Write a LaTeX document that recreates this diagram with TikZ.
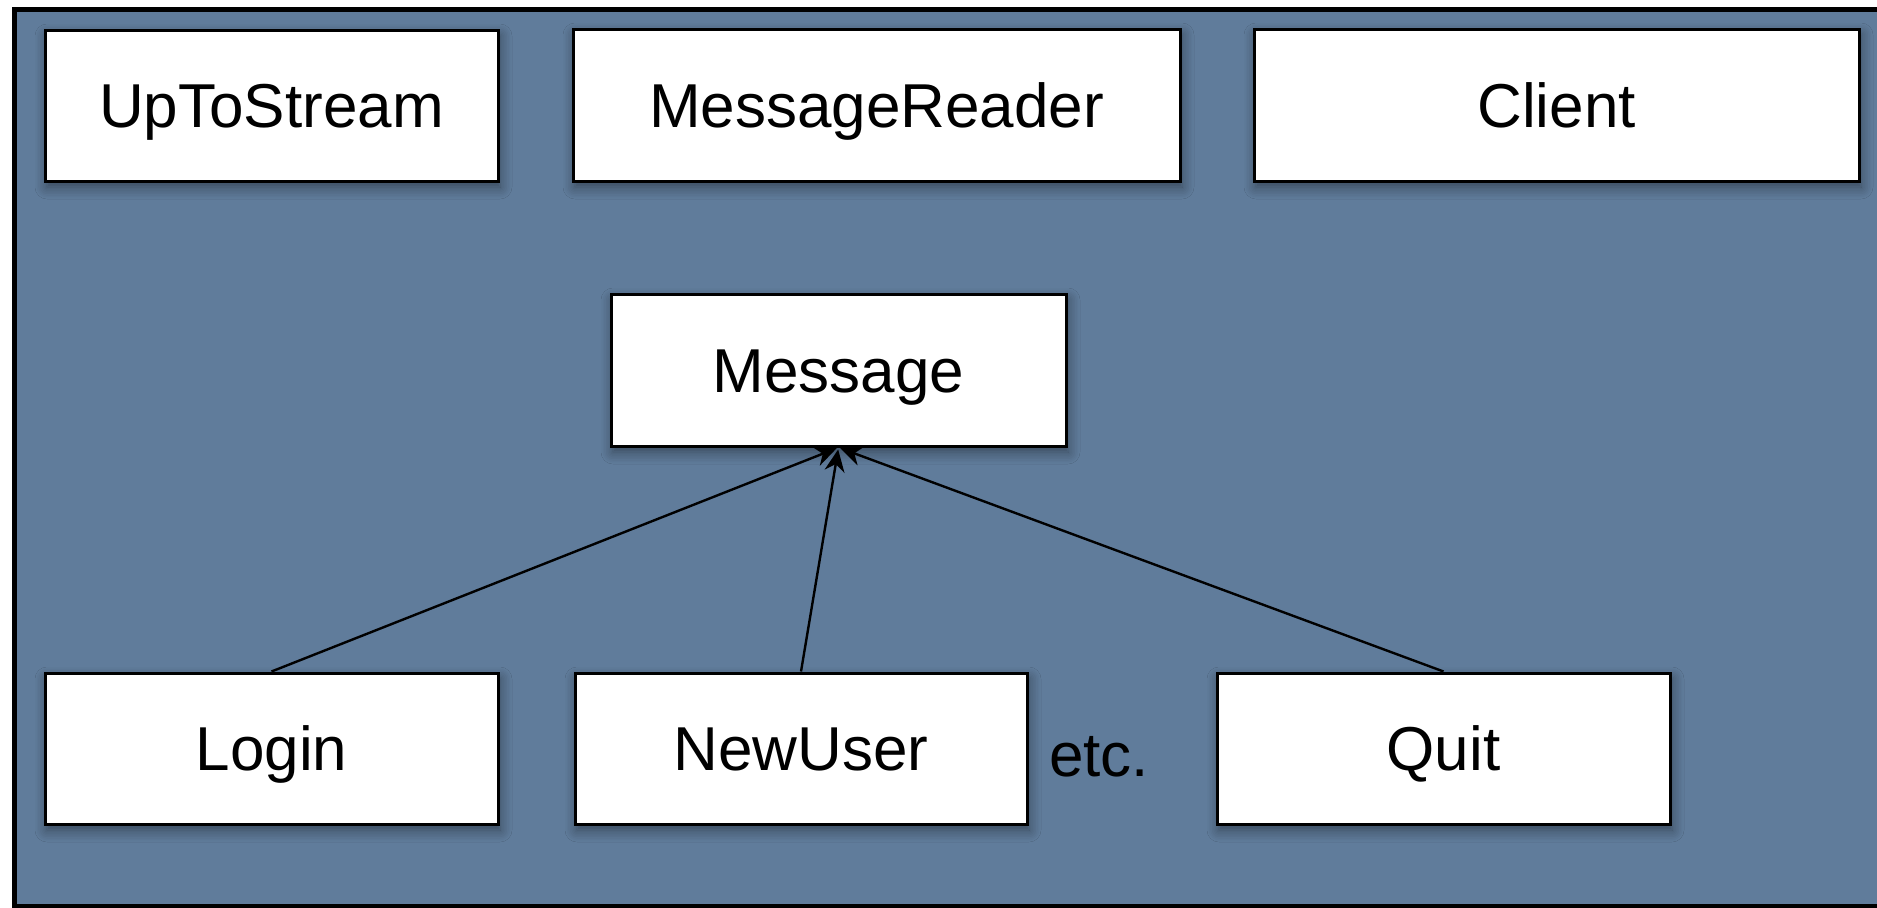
\documentclass[tikz,border=0pt]{standalone}
\usepackage{fontspec}
\setmainfont{Liberation Sans}
\usetikzlibrary{arrows.meta,shadows.blur}
\definecolor{slate}{RGB}{96,124,155}
\tikzset{
  box/.style={draw=black, fill=white, line width=1.5pt, inner sep=0pt,
    minimum height=75.5pt, text height=22.2pt, text depth=0pt,
    font=\fontsize{31}{37}\selectfont,
    blur shadow={shadow xshift=1pt, shadow yshift=-3pt, shadow blur steps=8,
      shadow blur radius=6pt, shadow opacity=45}},
  arr/.style={-{Stealth[length=11pt,width=10pt]}, line width=1.2pt, shorten >=1pt},
  lbl/.style={font=\fontsize{31}{37}\selectfont, inner sep=0pt, text height=22.2pt, text depth=0pt}
}
\begin{document}
\begin{tikzpicture}[x=0.5pt,y=-0.5pt]
  \useasboundingbox (0,0) rectangle (1877,907);
  \clip (0,0) rectangle (1877,907);
  \fill[white] (0,0) rectangle (1877,907);
  % framed slate panel, running off the right edge
  \draw[line width=2.5pt, fill=slate] (14.5,9.5) rectangle (1950,906);

  % top row
  \node[box, minimum width=226.5pt] (up)  at (271.5,105.5) {UpToStream};
  \node[box, minimum width=303.5pt, minimum height=76pt] (rdr) at (876.5,105) {MessageReader};
  \node[box, minimum width=302.5pt, minimum height=76pt] (cli) at (1556.5,105) {Client};

  % base class
  \node[box, minimum width=227.5pt, minimum height=76pt] (msg) at (838.5,370) {Message};

  % subclasses
  \node[box, minimum width=226.5pt] (login) at (271.5,748.5) {Login};
  \node[box, minimum width=226pt] (nu) at (801,748.5) {NewUser};
  \node[box, minimum width=226.5pt] (quit) at (1443.5,748.5) {Quit};
  \node[lbl] (etc) at (1099,754) {etc.};

  \draw[arr] (login.north) -- (msg.south);
  \draw[arr] (nu.north) -- (msg.south);
  \draw[arr] (quit.north) -- (msg.south);
\end{tikzpicture}
\end{document}
